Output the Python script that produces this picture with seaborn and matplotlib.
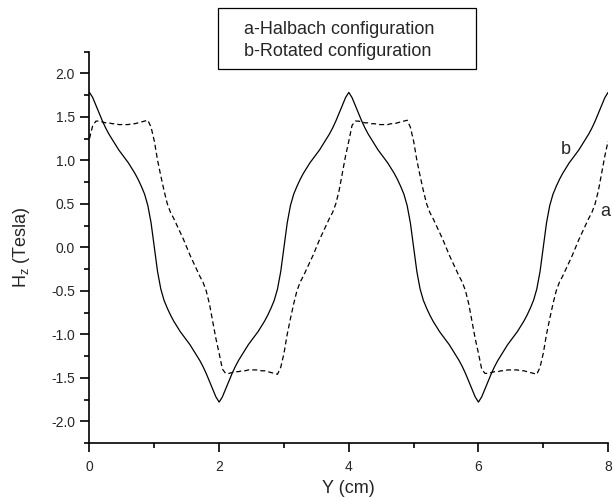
import numpy as np
import pandas as pd
import seaborn as sns
import matplotlib
matplotlib.use('Agg')
import matplotlib.pyplot as plt
from matplotlib.patches import Rectangle
from matplotlib.ticker import MultipleLocator, FormatStrFormatter

# sample positions along Y (cm), every 0.05
y_cm = np.linspace(0, 8, 161)

# b - rotated configuration (solid)
hz_rotated = [
    1.78, 1.72, 1.63, 1.54, 1.45, 1.37, 1.30, 1.24, 1.18, 1.12, 1.07, 1.02, 0.97, 0.91,
    0.85, 0.78, 0.70, 0.61, 0.48, 0.28, 0.00, -0.28, -0.48, -0.61, -0.70, -0.78, -0.85,
    -0.91, -0.97, -1.02, -1.07, -1.12, -1.18, -1.24, -1.30, -1.37, -1.45, -1.54, -1.63,
    -1.72, -1.78,
    -1.72, -1.63, -1.54, -1.45, -1.37, -1.30, -1.24, -1.18, -1.12, -1.07, -1.02, -0.97,
    -0.91, -0.85, -0.78, -0.70, -0.61, -0.48, -0.28, 0.00, 0.28, 0.48, 0.61, 0.70, 0.78,
    0.85, 0.91, 0.97, 1.02, 1.07, 1.12, 1.18, 1.24, 1.30, 1.37, 1.45, 1.54, 1.63, 1.72, 1.78,
    1.72, 1.63, 1.54, 1.45, 1.37, 1.30, 1.24, 1.18, 1.12, 1.07, 1.02, 0.97, 0.91,
    0.85, 0.78, 0.70, 0.61, 0.48, 0.28, 0.00, -0.28, -0.48, -0.61, -0.70, -0.78, -0.85,
    -0.91, -0.97, -1.02, -1.07, -1.12, -1.18, -1.24, -1.30, -1.37, -1.45, -1.54, -1.63,
    -1.72, -1.78,
    -1.72, -1.63, -1.54, -1.45, -1.37, -1.30, -1.24, -1.18, -1.12, -1.07, -1.02, -0.97,
    -0.91, -0.85, -0.78, -0.70, -0.61, -0.48, -0.28, 0.00, 0.28, 0.48, 0.61, 0.70, 0.78,
    0.85, 0.91, 0.97, 1.02, 1.07, 1.12, 1.18, 1.24, 1.30, 1.37, 1.45, 1.54, 1.63, 1.72, 1.78,
]

# a - Halbach configuration (dashed)
hz_halbach = [
    1.25, 1.40, 1.45, 1.45, 1.44, 1.43, 1.43, 1.42, 1.42, 1.41, 1.41, 1.41, 1.41, 1.42,
    1.42, 1.43, 1.44, 1.45, 1.46, 1.38, 1.22, 1.00, 0.82, 0.65, 0.50, 0.40, 0.33, 0.25,
    0.17, 0.09, 0.00, -0.09, -0.17, -0.25, -0.33, -0.40, -0.50, -0.65, -0.85, -1.05, -1.22,
    -1.40, -1.45, -1.45, -1.44, -1.43, -1.43, -1.42, -1.42, -1.41, -1.41, -1.41, -1.41,
    -1.42, -1.42, -1.43, -1.44, -1.45, -1.46, -1.38, -1.22, -1.00, -0.82, -0.65, -0.50,
    -0.40, -0.33, -0.25, -0.17, -0.09, 0.00, 0.09, 0.17, 0.25, 0.33, 0.40, 0.50, 0.65,
    0.85, 1.05, 1.22,
    1.40, 1.45, 1.45, 1.44, 1.43, 1.43, 1.42, 1.42, 1.41, 1.41, 1.41, 1.41, 1.42,
    1.42, 1.43, 1.44, 1.45, 1.46, 1.38, 1.22, 1.00, 0.82, 0.65, 0.50, 0.40, 0.33, 0.25,
    0.17, 0.09, 0.00, -0.09, -0.17, -0.25, -0.33, -0.40, -0.50, -0.65, -0.85, -1.05, -1.22,
    -1.40, -1.45, -1.45, -1.44, -1.43, -1.43, -1.42, -1.42, -1.41, -1.41, -1.41, -1.41,
    -1.42, -1.42, -1.43, -1.44, -1.45, -1.46, -1.38, -1.22, -1.00, -0.82, -0.65, -0.50,
    -0.40, -0.33, -0.25, -0.17, -0.09, 0.00, 0.09, 0.17, 0.25, 0.33, 0.40, 0.50, 0.65,
    0.85, 1.05, 1.22,
]

legend_lines = ['a-Halbach configuration', 'b-Rotated configuration']

sns.set_style('ticks')
plt.rcParams['font.family'] = ['Liberation Sans', 'DejaVu Sans']
plt.rcParams['axes.unicode_minus'] = False
plt.rcParams['mathtext.fontset'] = 'custom'
plt.rcParams['mathtext.rm'] = 'Liberation Sans'

df = pd.DataFrame({'y': y_cm, 'rot': hz_rotated, 'hal': hz_halbach})

fig = plt.figure(figsize=(6.13, 5.0), dpi=100)
ax = fig.add_axes([0.146, 0.114, 0.846, 0.783])

sns.lineplot(data=df, x='y', y='rot', color='black', lw=0.9, ax=ax)
sns.lineplot(data=df, x='y', y='hal', color='black', lw=0.9, ax=ax,
             linestyle=(0, (4, 2.5)))

ax.set_xlim(0, 8)
ax.set_ylim(-2.25, 2.25)
ax.xaxis.set_major_locator(MultipleLocator(2))
ax.xaxis.set_minor_locator(MultipleLocator(1))
ax.yaxis.set_major_locator(MultipleLocator(0.5))
ax.yaxis.set_minor_locator(MultipleLocator(0.25))
ax.yaxis.set_major_formatter(FormatStrFormatter('%.1f'))

for s in ['top', 'right']:
    ax.spines[s].set_visible(False)
for s in ['left', 'bottom']:
    ax.spines[s].set_linewidth(1.2)
    ax.spines[s].set_color('black')
ax.tick_params(which='major', length=6.5, width=1.2, color='black', labelsize=10)
ax.tick_params(which='minor', length=3.5, width=1.2, color='black')
ax.tick_params(axis='x', pad=6)
ax.tick_params(axis='y', pad=4)

ax.set_xlabel('Y (cm)', fontsize=13)
ax.set_ylabel(r'$\mathregular{H_z}$ (Tesla)', fontsize=13)
ax.xaxis.set_label_coords(0.5, -0.095)
ax.yaxis.label.set_va('center')
ax.yaxis.set_label_coords(-0.131, 0.5)

ax.text(7.34, 1.12, 'b', fontsize=13, ha='center', va='center')
ax.text(7.96, 0.41, 'a', fontsize=13, ha='center', va='center')

fig.patches.append(Rectangle((0.3556, 0.862), 0.4209, 0.122, transform=fig.transFigure,
                             fill=False, edgecolor='black', lw=0.9))
fig.text(0.3985, 0.931, legend_lines[0], fontsize=13, va='baseline')
fig.text(0.3985, 0.887, legend_lines[1], fontsize=13, va='baseline')

plt.savefig('out.png', dpi=100)
